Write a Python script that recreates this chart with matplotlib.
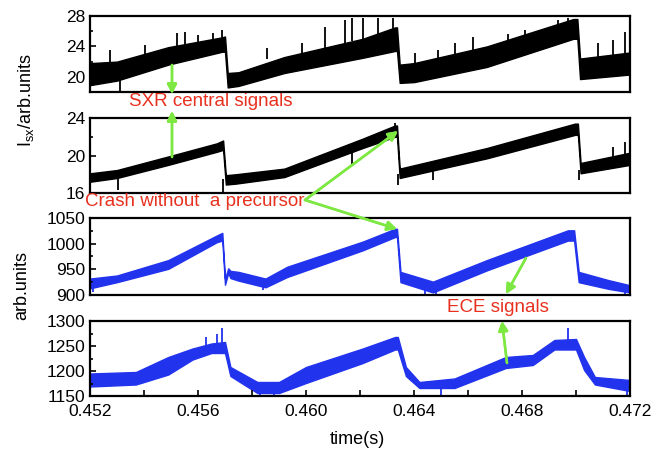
import matplotlib.pyplot as plt
from matplotlib.ticker import MultipleLocator, FormatStrFormatter

plt.rcParams['font.family'] = ['Liberation Sans', 'DejaVu Sans']
plt.rcParams['mathtext.default'] = 'regular'

# SXR Kanal 1 (oben): Zeit, untere und obere Kante des Rauschbands
t_sxr1 = [0.4520, 0.4530, 0.4549, 0.4569, 0.45700, 0.45710, 0.4575, 0.4592, 0.4621,
          0.4633, 0.46337, 0.46347, 0.4640, 0.4667, 0.4699, 0.47005, 0.47015, 0.4720]
lo_sxr1 = [18.9, 19.5, 21.6, 23.3, 23.3, 18.6, 18.8, 20.5, 22.5,
           23.4, 23.4, 19.2, 19.3, 21.3, 25.0, 25.0, 19.7, 20.3]
hi_sxr1 = [21.8, 22.0, 23.9, 25.2, 25.3, 20.5, 20.6, 22.6, 25.0,
           26.5, 26.5, 21.6, 21.8, 24.0, 27.6, 27.6, 22.4, 23.2]
# einzelne Spitzen (Zeit, von, bis)
sp_t_sxr1 = [0.45274, 0.45311, 0.45404, 0.45522, 0.45552, 0.45600, 0.45656, 0.45689,
             0.45856, 0.45985, 0.46070, 0.46144, 0.46170, 0.46211, 0.46267, 0.46322,
             0.46404, 0.46489, 0.46552, 0.46619, 0.46748, 0.46811, 0.46874, 0.46933,
             0.46970, 0.47081, 0.47137, 0.47181]
sp_lo_sxr1 = [21.5, 18.0, 22.2, 23.5, 23.6, 24.0, 24.6, 25.0,
              22.3, 22.8, 23.6, 24.5, 24.7, 25.0, 25.5, 26.0,
              21.7, 22.2, 22.7, 23.0, 24.0, 24.4, 24.8, 25.3,
              25.7, 22.5, 22.8, 23.0]
sp_hi_sxr1 = [23.5, 19.8, 24.2, 25.8, 25.9, 25.5, 25.8, 26.2,
              23.8, 24.4, 26.6, 27.5, 27.7, 27.7, 27.8, 27.7,
              23.1, 23.5, 24.4, 25.2, 25.6, 26.2, 26.2, 27.5,
              27.7, 24.4, 24.8, 25.9]

# SXR Kanal 2
t_sxr2 = [0.4520, 0.4530, 0.4549, 0.4567, 0.45693, 0.45703, 0.4574, 0.4592, 0.4621,
          0.4633, 0.46337, 0.46347, 0.4667, 0.46996, 0.47007, 0.47017, 0.4720]
lo_sxr2 = [17.2, 17.6, 19.0, 20.4, 20.6, 16.9, 17.0, 17.7, 20.8,
           22.0, 22.0, 17.6, 19.7, 22.2, 22.2, 18.1, 19.0]
hi_sxr2 = [18.1, 18.45, 19.9, 21.3, 21.6, 17.9, 18.0, 18.6, 21.8,
           23.2, 23.2, 18.6, 20.8, 23.4, 23.4, 19.2, 20.3]
sp_t_sxr2 = [0.45304, 0.45693, 0.46170, 0.4633, 0.46341, 0.46470, 0.47011, 0.47137, 0.47181]
sp_lo_sxr2 = [16.3, 16.1, 19.0, 22.5, 16.85, 17.4, 17.4, 19.5, 19.8]
sp_hi_sxr2 = [17.8, 17.5, 20.8, 23.5, 18.0, 18.5, 18.5, 20.9, 21.4]

# ECE Kanal 1
t_ece1 = [0.4520, 0.4530, 0.4549, 0.4567, 0.45690, 0.45700, 0.45712, 0.4572, 0.4575,
          0.4585, 0.4593, 0.4621, 0.4633, 0.46337, 0.46350, 0.4647, 0.4667, 0.4682,
          0.4697, 0.46993, 0.47010, 0.4712, 0.4720]
lo_ece1 = [913, 925, 951, 1003, 1006, 920, 943, 933, 928,
           915, 935, 987, 1013, 1013, 925, 905, 948, 977,
           1006, 1006, 925, 912, 905]
hi_ece1 = [932, 938, 968, 1016, 1021, 932, 952, 947, 945,
           932, 955, 1004, 1029, 1029, 945, 926, 968, 997,
           1026, 1026, 945, 929, 919]
sp_t_ece1 = [0.45210, 0.45840, 0.46440, 0.46480, 0.47180]
sp_lo_ece1 = [906, 909, 901, 901, 902]
sp_hi_ece1 = [925, 925, 918, 918, 915]

# ECE Kanal 2
t_ece2 = [0.4520, 0.4537, 0.4549, 0.4558, 0.4565, 0.4570, 0.4572, 0.4582, 0.4590,
          0.4600, 0.4621, 0.4633, 0.4634, 0.4637, 0.4642, 0.4655, 0.4674, 0.4684,
          0.4692, 0.4700, 0.4703, 0.4707, 0.4720]
lo_ece2 = [1169, 1173, 1193, 1223, 1236, 1236, 1190, 1156, 1156,
           1176, 1216, 1243, 1243, 1190, 1166, 1166, 1206, 1212,
           1243, 1243, 1202, 1173, 1160]
hi_ece2 = [1195, 1198, 1228, 1245, 1255, 1258, 1208, 1178, 1178,
           1208, 1245, 1268, 1268, 1208, 1178, 1185, 1228, 1232,
           1262, 1264, 1228, 1188, 1182]
sp_t_ece2 = [0.45630, 0.45670, 0.45689, 0.45830, 0.45880, 0.46500, 0.46970, 0.47190]
sp_lo_ece2 = [1245, 1250, 1255, 1150, 1150, 1152, 1255, 1150]
sp_hi_ece2 = [1268, 1275, 1286, 1162, 1162, 1168, 1286, 1165]

ylims = [(18, 28), (16, 24), (900, 1050), (1150, 1300)]
ymajor = [4, 4, 50, 50]
yminor = [2, 2, 25, 25]
# Lage der Achsen in Pixeln (oben, unten)
rows_px = [(16, 92), (118, 193), (218, 295), (321, 396)]

black = 'black'
blue = '#2233ee'
green = '#7ee843'
red = '#e8301e'

W, H = 665, 457
fig = plt.figure(figsize=(W / 100, H / 100), dpi=100)

panels = [
    (t_sxr1, lo_sxr1, hi_sxr1, sp_t_sxr1, sp_lo_sxr1, sp_hi_sxr1, black),
    (t_sxr2, lo_sxr2, hi_sxr2, sp_t_sxr2, sp_lo_sxr2, sp_hi_sxr2, black),
    (t_ece1, lo_ece1, hi_ece1, sp_t_ece1, sp_lo_ece1, sp_hi_ece1, blue),
    (t_ece2, lo_ece2, hi_ece2, sp_t_ece2, sp_lo_ece2, sp_hi_ece2, blue),
]

axes = []
for i, (t, lo, hi, st, slo, shi, c) in enumerate(panels):
    top, bot = rows_px[i]
    ax = fig.add_axes([90 / W, 1 - bot / H, 540 / W, (bot - top) / H])
    ax.fill_between(t, lo, hi, color=c, lw=1.0, edgecolor=c)
    ax.vlines(st, slo, shi, color=c, lw=1.3)
    ax.set_xlim(0.452, 0.472)
    ax.set_ylim(*ylims[i])
    ax.yaxis.set_major_locator(MultipleLocator(ymajor[i]))
    ax.yaxis.set_minor_locator(MultipleLocator(yminor[i]))
    ax.tick_params(axis='y', which='both', direction='in', labelsize=12.5, width=1.2)
    ax.tick_params(axis='y', which='major', length=4)
    ax.tick_params(axis='y', which='minor', length=2.5)
    for s in ax.spines.values():
        s.set_linewidth(1.6)
    if i < 3:
        ax.tick_params(axis='x', which='both', bottom=False, labelbottom=False)
    axes.append(ax)

ax = axes[-1]
ax.xaxis.set_major_locator(MultipleLocator(0.004))
ax.xaxis.set_minor_locator(MultipleLocator(0.002))
ax.xaxis.set_major_formatter(FormatStrFormatter('%.3f'))
ax.tick_params(axis='x', which='both', direction='in', labelsize=12.5, width=1.2, pad=6)
ax.tick_params(axis='x', which='major', length=4)
ax.tick_params(axis='x', which='minor', length=4)


def fx(px):
    return px / W


def fy(py):
    return 1 - py / H


fig.text(fx(26), fy(100), r'I$_{sx}$/arb.units', rotation=90, ha='center', va='center', fontsize=13)
fig.text(fx(22), fy(285), 'arb.units', rotation=90, ha='center', va='center', fontsize=13)
fig.text(fx(357), fy(440), 'time(s)', ha='center', va='center', fontsize=13)

fig.text(fx(211), fy(102), 'SXR central signals', color=red, ha='center', va='center', fontsize=13.5)
fig.text(fx(195), fy(202), 'Crash without  a precursor', color=red, ha='center', va='center', fontsize=13.5)
fig.text(fx(498), fy(307), 'ECE signals', color=red, ha='center', va='center', fontsize=13.5)

arrows = [((172, 65), (172, 94)), ((172, 157), (172, 111)),
          ((305, 200), (398, 131)), ((305, 200), (397, 229)),
          ((526, 258), (506, 294)), ((507, 363), (502, 321))]
for (x0, y0), (x1, y1) in arrows:
    fig.add_artist(plt.annotate('', xy=(fx(x1), fy(y1)), xytext=(fx(x0), fy(y0)),
                                xycoords='figure fraction', textcoords='figure fraction',
                                arrowprops=dict(arrowstyle='-|>', color=green, lw=1.8,
                                                mutation_scale=14, shrinkA=0, shrinkB=0)))

fig.savefig('out.png', dpi=100)
